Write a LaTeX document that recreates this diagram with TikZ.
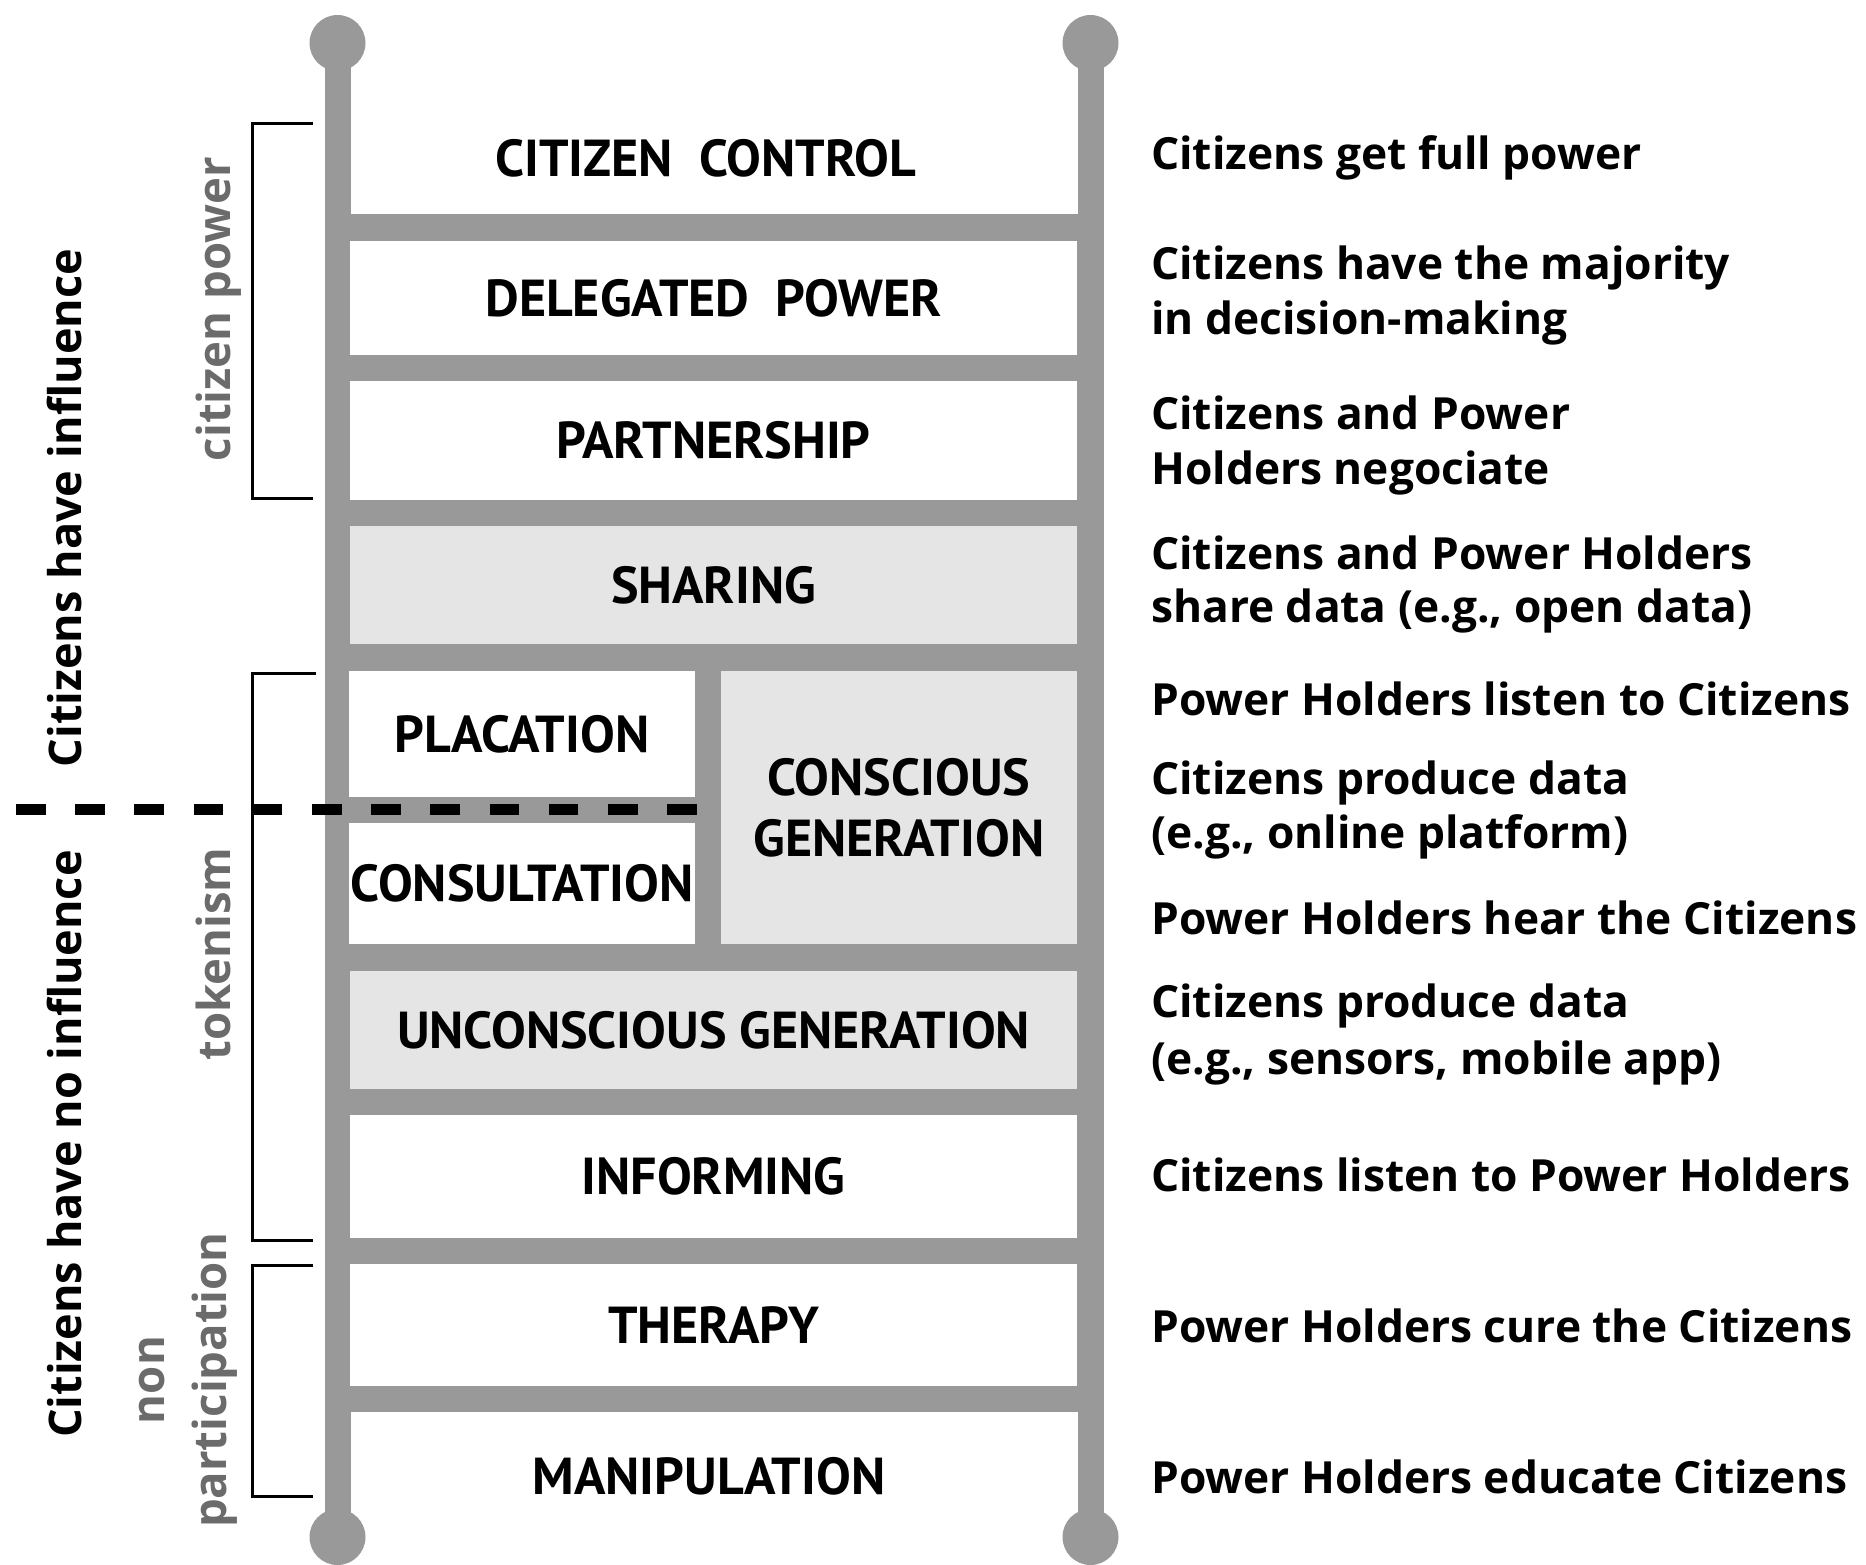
\documentclass[tikz,border=0pt]{standalone}
\usepackage{fontspec}
\setmainfont{PT Sans}
\newfontfamily\osans{Open Sans}
\begin{document}
\begin{tikzpicture}[x=1pt,y=-1pt,
  railgray/.style={draw=rail,line width=26pt},
  knob/.style={circle,fill=rail,minimum size=56pt,inner sep=0pt},
  rungbox/.style={rectangle,inner sep=0pt,fill=white,font=\fontsize{52}{61}\selectfont\bfseries,align=center},
  graybox/.style={rungbox,fill=boxgray},
  desc/.style={anchor=base west,inner sep=0pt,font=\osans\fontsize{44.3}{54}\selectfont\bfseries},
  biglabel/.style={rotate=90,anchor=base,inner sep=0pt,font=\osans\fontsize{45}{54}\selectfont\bfseries},
  grouplabel/.style={rotate=90,anchor=base,inner sep=0pt,text=labelgray,align=center,font=\osans\fontsize{45.5}{62}\selectfont\bfseries},
  bracket/.style={draw=black,line width=3pt}
]
\definecolor{rail}{HTML}{999999}
\definecolor{boxgray}{HTML}{E5E5E5}
\definecolor{labelgray}{HTML}{6B6B6B}
\useasboundingbox (0,0) rectangle (1866,1564);
% ladder background (rungs)
\fill[rail] (325,214) rectangle (1104,1412);
% knobs and rails
\node[knob] (ktl) at (337.5,43) {};
\node[knob] (ktr) at (1090.5,43) {};
\node[knob] (kbl) at (337.5,1537) {};
\node[knob] (kbr) at (1090.5,1537) {};
\draw[railgray] (ktl.center) -- (kbl.center);
\draw[railgray] (ktr.center) -- (kbr.center);
% steps
\node[rungbox,anchor=center] (cc) at (706,158) {CITIZEN\ \ CONTROL};
\node[rungbox,minimum width=727pt,minimum height=114pt] (dp) at (713.5,298) {DELEGATED\ \ POWER};
\node[rungbox,minimum width=727pt,minimum height=119pt] (pa) at (713.5,440.5) {PARTNERSHIP};
\node[graybox,minimum width=727pt,minimum height=118pt] (sh) at (713.5,585) {SHARING};
\node[rungbox,minimum width=346pt,minimum height=126pt] (pl) at (522,734) {PLACATION};
\node[rungbox,minimum width=346pt,minimum height=121pt] (co) at (522,883.5) {CONSULTATION};
\node[graybox,minimum width=356pt,minimum height=273pt] (cg) at (899,807.5) {CONSCIOUS\\GENERATION};
\node[graybox,minimum width=727pt,minimum height=118pt] (ug) at (713.5,1030) {UNCONSCIOUS GENERATION};
\node[rungbox,minimum width=727pt,minimum height=123pt] (in) at (713.5,1176.5) {INFORMING};
\node[rungbox,minimum width=727pt,minimum height=122pt] (th) at (713.5,1325) {THERAPY};
\node[rungbox,anchor=center] (ma) at (709,1476) {MANIPULATION};
% descriptions
\node[desc] (r1) at (1151,169) {Citizens get full power};
\node[desc] (r2a) at (1151,279) {Citizens have the majority};
\node[desc] (r2b) at (1151,334) {in decision-making};
\node[desc] (r3a) at (1151,429) {Citizens and Power};
\node[desc] (r3b) at (1151,484) {Holders negociate};
\node[desc] (r4a) at (1151,569) {Citizens and Power Holders};
\node[desc] (r4b) at (1151,622) {share data (e.g., open data)};
\node[desc] (r5) at (1151,715) {Power Holders listen to Citizens};
\node[desc] (r6a) at (1151,794) {Citizens produce data};
\node[desc] (r6b) at (1151,848) {(e.g., online platform)};
\node[desc] (r7) at (1151,934) {Power Holders hear the Citizens};
\node[desc] (r8a) at (1151,1017) {Citizens produce data};
\node[desc] (r8b) at (1151,1074) {(e.g., sensors, mobile app)};
\node[desc] (r9) at (1151,1191) {Citizens listen to Power Holders};
\node[desc] (r10) at (1151,1342) {Power Holders cure the Citizens};
\node[desc] (r11) at (1151,1493) {Power Holders educate Citizens};
% brackets
\draw[bracket] (313,123) -- (252,123) -- (252,498) -- (313,498);
\draw[bracket] (316,673) -- (252,673) -- (252,1240) -- (313,1240);
\draw[bracket] (313,1265) -- (252,1265) -- (252,1496) -- (313,1496);
% group labels
\node[grouplabel] (gp) at (230,309) {citizen power};
\node[grouplabel] (gt) at (230,954) {tokenism};
\node[grouplabel,anchor=center] (gn) at (188,1380) {non\\participation};
\node[biglabel] (li) at (81,508) {Citizens have influence};
\node[biglabel] (ln) at (81,1144) {Citizens have no influence};
% dashed divider
\coordinate (d1) at (16,809);
\coordinate (d2) at (698,809);
\draw[line width=11pt,dash pattern=on 29.6pt off 29.6pt] (d1) -- (d2);
\end{tikzpicture}
\end{document}
